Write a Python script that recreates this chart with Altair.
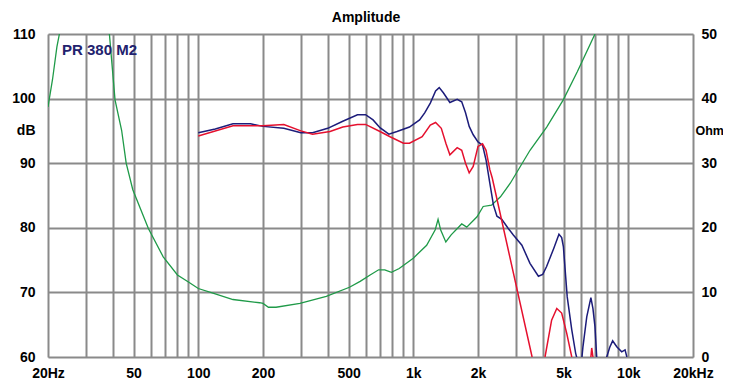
import altair as alt
import pandas as pd

# ---- data ----
BLUE_F = [100, 120, 145, 175, 200, 250, 300, 340, 400, 470, 550, 600, 650, 700, 770, 840, 960,
          1070, 1130, 1200, 1270, 1320, 1380, 1480, 1600, 1680, 1750, 1820, 1900, 2000, 2100,
          2180, 2270, 2360, 2450, 2580, 2750, 2920, 3200, 3490, 3820, 4000, 4170, 4500, 4760,
          4900, 4990, 5200, 5460, 5690, 5850, 6050, 6150, 6410, 6700, 6850, 7000, 7130, 7250,
          7850, 7940, 8200, 8460, 8840, 9320, 9660, 9850]
BLUE_DB = [94.7, 95.3, 96.1, 96.1, 95.7, 95.4, 94.7, 94.7, 95.4, 96.5, 97.5, 97.5, 96.7, 95.5,
           94.5, 94.9, 95.6, 96.7, 97.8, 99.3, 101.2, 101.7, 100.9, 99.4, 99.9, 99.5, 97.8,
           95.7, 94.4, 93.3, 92.8, 90.5, 86.9, 83.5, 81.8, 81.3, 80.0, 78.9, 77.3, 74.5, 72.5,
           72.8, 74.0, 76.8, 79.0, 78.5, 77.1, 69.3, 64.2, 60.6, 59.0, 59.0, 61.5, 66.2, 69.2,
           67.5, 64.7, 60.0, 59.0, 59.0, 60.0, 61.5, 62.5, 61.6, 60.8, 61.1, 60.0]

RED_F = [100, 145, 200, 250, 300, 340, 410, 470, 550, 600, 700, 780, 900, 960, 1100, 1200,
         1270, 1350, 1420, 1480, 1600, 1680, 1750, 1820, 1900, 2000, 2100, 2180, 2270, 2330,
         2900, 3570, 3700, 4000, 4100, 4400, 4650, 4900, 5170, 5460, 5600, 6600, 6700, 6760,
         6850, 6950]
RED_DB = [94.2, 95.8, 95.8, 96.0, 95.0, 94.5, 94.9, 95.6, 96.0, 96.0, 94.9, 94.1, 93.1, 93.1,
          94.1, 95.9, 96.3, 95.4, 93.0, 91.3, 92.4, 92.0, 90.0, 88.5, 89.5, 92.6, 93.0, 92.0,
          89.0, 87.7, 73.5, 60.0, 58.5, 58.5, 60.0, 65.7, 67.5, 66.8, 63.7, 60.0, 58.5, 58.5,
          60.0, 61.4, 60.0, 58.5]

GREEN_F = [20, 21, 22, 22.6, 24, 26, 28, 30, 32, 34, 36.5, 38.6, 41, 44, 46.2, 49.6, 58.6, 68.7,
           80, 90, 100, 117, 145, 193, 200, 212, 230, 297, 394, 505, 566, 630, 690, 737, 791,
           860, 1000, 1154, 1265, 1304, 1340, 1417, 1500, 1680, 1773, 1979, 2114, 2312, 2544,
           2826, 3491, 4174, 4985, 5800, 7000, 7500]
GREEN_OHM = [38.7, 43, 48, 50, 56, 64, 72, 76, 72, 64, 55, 50, 39.8, 35.1, 30.0, 25.9, 19.9,
             15.5, 12.7, 11.6, 10.6, 9.9, 8.9, 8.4, 8.3, 7.7, 7.7, 8.3, 9.4, 10.8, 11.7, 12.7,
             13.5, 13.5, 13.1, 13.7, 15.3, 17.3, 19.7, 21.3, 19.7, 17.8, 18.9, 20.6, 20.1, 21.7,
             23.3, 23.5, 24.8, 26.9, 32.0, 35.6, 39.8, 44.2, 50, 53]

GRID_FREQS = [20, 30, 40, 50, 60, 70, 80, 90, 100, 200, 300, 400, 500, 600, 700, 800, 900,
              1000, 2000, 3000, 4000, 5000, 6000, 7000, 8000, 9000, 10000, 20000]
XTICKS = [20, 50, 100, 200, 500, 1000, 2000, 5000, 10000, 20000]
XTICK_LABELS = ["20Hz", "50", "100", "200", "500", "1k", "2k", "5k", "10k", "20kHz"]
DB_TICKS = [60, 70, 80, 90, 100, 110]
OHM_TICKS = [0, 10, 20, 30, 40, 50]
TITLE = "Amplitude"
MODEL = "PR 380 M2"

# ---- tables ----
spl = pd.concat([
    pd.DataFrame({"f": BLUE_F, "db": BLUE_DB, "s": "a", "o": range(len(BLUE_F))}),
    pd.DataFrame({"f": RED_F, "db": RED_DB, "s": "b", "o": range(len(RED_F))}),
])
imp = pd.DataFrame({"f": GREEN_F, "ohm": GREEN_OHM, "o": range(len(GREEN_F))})

expr = ""
for v, lab in zip(XTICKS, XTICK_LABELS):
    expr += f"datum.value == {v} ? '{lab}' : "
expr += "''"

FONT = "Liberation Sans"
GRID = "#8a8a8a"

xenc = alt.X("f:Q", scale=alt.Scale(type="log", domain=[20, 20000], nice=False),
             axis=alt.Axis(values=GRID_FREQS, labelExpr=expr, labelFlush=False,
                           labelOverlap=False, ticks=False, domain=False, title=None,
                           grid=True, gridColor=GRID, gridWidth=2, labelPadding=9,
                           labelFont=FONT, labelFontSize=14, labelFontWeight="bold",
                           labelColor="black"))

spl_layer = alt.Chart(spl).mark_line(clip=True, strokeWidth=1.5).encode(
    x=xenc,
    y=alt.Y("db:Q", scale=alt.Scale(domain=[60, 110], nice=False, zero=False),
            axis=alt.Axis(values=DB_TICKS, title="dB", titleAngle=0, titleX=-13, titleY=96,
                          titleAlign="right", titleBaseline="middle", titleFont=FONT,
                          titleFontSize=14, titleFontWeight="bold", titleColor="black",
                          ticks=False, domain=False, grid=True, gridColor=GRID, gridWidth=2,
                          labelPadding=13, labelFont=FONT, labelFontSize=14,
                          labelFontWeight="bold", labelColor="black")),
    color=alt.Color("s:N", scale=alt.Scale(domain=["a", "b"], range=["#1c1c7a", "#e5102e"]),
                    legend=None),
    order="o:Q",
)

imp_layer = alt.Chart(imp).mark_line(clip=True, strokeWidth=1.3, color="#1f9a48").encode(
    x=xenc,
    y=alt.Y("ohm:Q", scale=alt.Scale(domain=[0, 50], nice=False, zero=False),
            axis=alt.Axis(values=OHM_TICKS, orient="right", title="Ohm", titleAngle=0,
                          titleX=2, titleY=96, titleAlign="left", titleBaseline="middle",
                          titleFont=FONT, titleFontSize=12.5, titleFontWeight="bold",
                          titleColor="black", ticks=False, domain=False, grid=False,
                          labelPadding=8, labelFont=FONT, labelFontSize=14,
                          labelFontWeight="bold", labelColor="black")),
    order="o:Q",
)

texts = pd.DataFrame({"t": [MODEL, TITLE], "k": ["model", "title"]})

label = alt.Chart(texts).transform_filter(alt.datum.k == "model").mark_text(
    align="left", baseline="middle", font=FONT, fontSize=15, fontWeight="bold",
    color="#22226e"
).encode(x=alt.value(14), y=alt.value(16), text="t:N")

title = alt.Chart(texts).transform_filter(alt.datum.k == "title").mark_text(
    align="center", baseline="alphabetic", font=FONT, fontSize=14, fontWeight="bold",
    color="black"
).encode(x=alt.value(318), y=alt.value(-12), text="t:N")

chart = alt.layer(imp_layer, spl_layer, label, title).resolve_scale(
    y="independent").properties(
    width=645, height=323,
    autosize=alt.AutoSizeParams(type="none"),
    padding={"left": 40, "top": 26, "right": 30, "bottom": 26},
).configure_view(fill="#c9e3f6", stroke="#111111", strokeWidth=1.5).configure(
    background="white")

chart.save("out.html", embed_options={"renderer": "svg", "actions": False})
